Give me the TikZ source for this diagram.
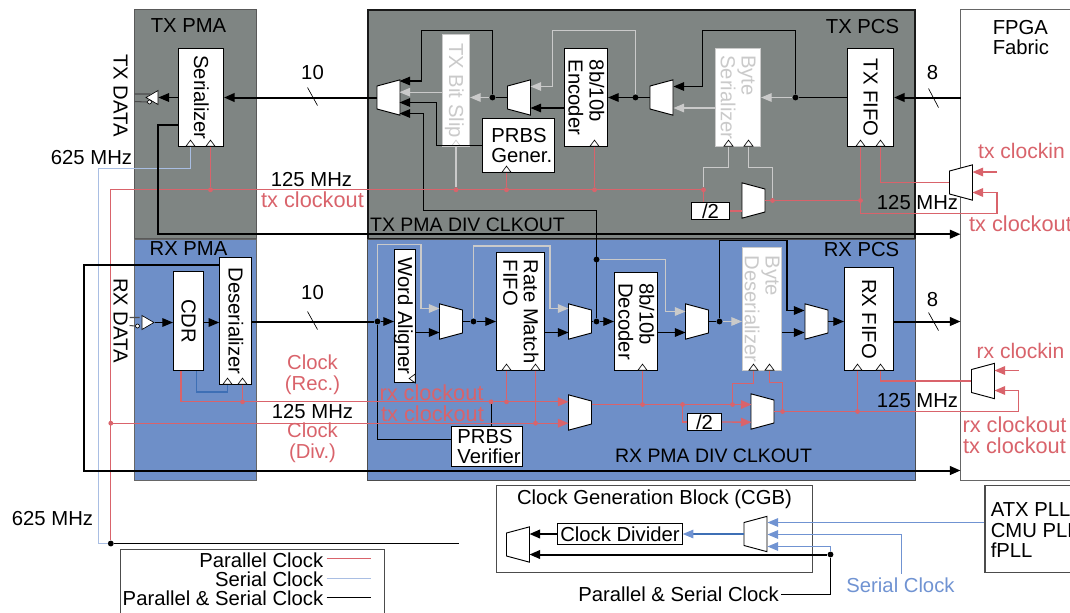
\documentclass[tikz,border=0pt]{standalone}
\usepackage{fontspec}
\setmainfont{Liberation Sans}
\usetikzlibrary{arrows.meta,shapes.geometric,positioning}
\definecolor{txgray}{HTML}{7F8583}
\definecolor{rxblue}{HTML}{6E8FC8}
\definecolor{wred}{HTML}{D9636B}
\definecolor{wgray}{HTML}{CACACA}
\definecolor{sblue}{HTML}{A9BEE3}
\definecolor{cblue}{HTML}{7093D2}
\definecolor{dblue}{HTML}{3E6FB5}
\newcommand{\vtext}[1]{\hspace*{-2pt}\makebox[0pt]{\rotatebox{-90}{\begin{tabular}{@{}l@{}}#1\end{tabular}}}\hspace*{2pt}}

\begin{document}
\begin{tikzpicture}[
  x=0.75pt, y=-0.75pt,
  every node/.style = {font=\fontsize{15.2}{15.4}\selectfont},
  region/.style = {draw=#1, line width=1pt},
  block/.style 2 args = {
    rectangle,
    draw,
    fill=white,
    inner sep=0pt,
    line width=.8pt,
    minimum width=#1*0.75pt,
    minimum height=#2*0.75pt,
    align=left
  },
  ghost/.style 2 args = {block={#1}{#2}, draw=wgray, text=wgray},
  mux/.style = {
    trapezium,
    draw,
    fill=white,
    line width=.7pt,
    inner sep=1pt,
    trapezium angle=75,
    shape border rotate=#1,
    minimum width=34*0.75pt,
    minimum height=23*0.75pt
  },
  clk/.style = {
    isosceles triangle,
    isosceles triangle stretches,
    isosceles triangle apex angle=90,
    shape border rotate=#1,
    draw,
    fill=white,
    line width=.5pt,
    inner sep=0pt,
    minimum width=9*0.75pt,
    minimum height=6*0.75pt
  },
  buf/.style = {
    isosceles triangle,
    isosceles triangle stretches,
    shape border rotate=#1,
    draw,
    fill=white,
    line width=.5pt,
    inner sep=0pt,
    minimum width=14*0.75pt,
    minimum height=12*0.75pt
  },
  bubble/.style = {circle, draw, fill=white, inner sep=0pt, minimum size=3pt, line width=.5pt},
  dot/.style = {circle, fill=#1, inner sep=0pt, minimum size=4.4pt},
  rdot/.style = {circle, fill=wred, inner sep=0pt, minimum size=3.6pt},
  tip/.style = {-{Triangle[length=8pt,width=6.5pt]}},
  wire/.style = {line width=.8pt, black},
  bus/.style = {line width=1.5pt, black},
  arr/.style = {wire, tip},
  busarr/.style = {bus, tip},
  gwire/.style = {line width=.8pt, wgray},
  garr/.style = {gwire, tip},
  rwire/.style = {line width=1pt, wred},
  rarr/.style = {rwire, tip},
  bwire/.style = {line width=1pt, sblue},
  barr/.style = {line width=.8pt, cblue, tip},
  slash/.style = {line width=.5pt, black},
  lbl/.style = {inner sep=0pt},
  rlbl/.style = {inner sep=0pt, text=wred},
  clocklbl/.style = {rlbl, font=\fontsize{16.3}{16.5}\selectfont},
  divlbl/.style = {lbl, font=\fontsize{14.6}{15}\selectfont},
  ]
  \path[use as bounding box, clip] (0,0) rectangle (1070,612);
  \begin{scope}[shift={(.5,.5)}]

  % regions
  \draw[region=black!65, fill=txgray] (134,9) rectangle (256,238);
  \draw[region=black!90, fill=txgray, line width=1.5pt] (367,9) rectangle (914,238);
  \draw[region=black!60, fill=rxblue] (134,239) rectangle (256,480);
  \draw[region=black!70, fill=rxblue] (367,239) rectangle (915,480);
  \draw[region=black!60, fill=white] (960,9) rectangle (1080,480);
  \draw[region=black!70] (496,485) rectangle (812,572);
  \draw[region=black!70] (120,549) rectangle (384,625);
  \node[block={95}{87}, draw=black!70] (pll) at (1032,528.5) {};

  % TX blocks
  \node[block={45}{98}] (serial) at (200.5,97) {\vtext{Serializer}};
  \node[ghost={27}{112}] (bitslip) at (455.5,90) {\vtext{TX Bit Slip}};
  \node[block={43}{98}] (encoder) at (585.5,97) {\vtext{8b/10b\\Encoder}};
  \node[block={72}{53.5}] (prbsgen) at (518,145.2) {\hspace{5pt}PRBS\\\hspace{5pt}Gener.};
  \node[ghost={45}{98}] (byteser) at (737.5,97) {\vtext{Byte\\Serializer}};
  \node[block={46}{98}] (txfifo) at (870,97) {\vtext{TX FIFO}};
  \node[block={38}{17.5}] (txdiv) at (710,210.5) {/2};
  \node[mux=90] (txm1) at (388,97) {};
  \node[mux=90] (txm2) at (518.5,97) {};
  \node[mux=90] (txm3) at (661,97) {};
  \node[mux=270] (txm4) at (753,200) {};
  \node[mux=90] (txm5) at (960.5,182) {};
  \node[buf=180] (txbuf) at (153.5,97) {};
  \node[bubble] (txbub) at (149,101.5) {};

  % RX blocks
  \node[block={31.5}{127}] (deser) at (235,320.5) {\vtext{Deserializer}};
  \node[block={30}{99}] (cdr) at (188,320.5) {\vtext{CDR}};
  \node[block={21}{133}] (aligner) at (404.5,315.5) {\vtext{Word Aligner}};
  \node[block={48}{118}] (ratefifo) at (520,311) {\vtext{Rate Match\\FIFO}};
  \node[block={43}{98}] (decoder) at (635.5,321) {\vtext{8b/10b\\Decoder}};
  \node[ghost={39}{123}] (bytedes) at (761.5,308.5) {\vtext{Byte\\Deserializer}};
  \node[block={49}{103}] (rxfifo) at (868.5,318.5) {\vtext{RX FIFO}};
  \node[block={71}{40}] (prbsver) at (486.5,446) {\hspace{3pt}PRBS\\\hspace{3pt}Verifier};
  \node[block={34}{17}] (rxdiv) at (704,421.5) {/2};
  \node[mux=270] (rxm1) at (450.5,321) {};
  \node[mux=270] (rxm2) at (579.5,321) {};
  \node[mux=270] (rxm3) at (696.5,321) {};
  \node[mux=270] (rxm4) at (816,321) {};
  \node[mux=270] (rxm5) at (579.5,412) {};
  \node[mux=270] (rxm6) at (762,411) {};
  \node[mux=90] (rxm7) at (982.5,380.5) {};
  \node[buf=0] (rxbuf) at (145.5,322) {};
  \node[bubble] (rxbub) at (137,325.5) {};

  % CGB blocks
  \node[block={124.5}{21}] (divider) at (619.5,533.5) {Clock Divider};
  \node[mux=90] (cgbm1) at (517.5,544) {};
  \node[mux=90] (cgbm2) at (755,533.5) {};

  % clock marks
  \node[clk=90, anchor=lower side] (ckser1) at (190,146) {};
  \node[clk=90, anchor=lower side] (ckser2) at (210,146) {};
  \node[clk=90, anchor=lower side, draw=wgray] (ckslip) at (455.5,146) {};
  \node[clk=90, anchor=lower side] (ckprbs) at (506,172) {};
  \node[clk=90, anchor=lower side] (ckenc) at (594,146) {};
  \node[clk=90, anchor=lower side] (ckbyte1) at (728,146) {};
  \node[clk=90, anchor=lower side] (ckbyte2) at (748,146) {};
  \node[clk=90, anchor=lower side] (cktx1) at (860,146) {};
  \node[clk=90, anchor=lower side] (cktx2) at (880,146) {};
  \node[clk=90, anchor=lower side] (ckdes1) at (227,384) {};
  \node[clk=90, anchor=lower side] (ckdes2) at (242,384) {};
  \node[clk=180, anchor=lower side] (ckword) at (415,378) {};
  \node[clk=90, anchor=lower side] (ckrate1) at (506,370) {};
  \node[clk=90, anchor=lower side] (ckrate2) at (535,370) {};
  \node[clk=90, anchor=lower side] (ckdec) at (642,370) {};
  \node[clk=90, anchor=lower side] (ckbd1) at (753,370) {};
  \node[clk=90, anchor=lower side] (ckbd2) at (769,370) {};
  \node[clk=90, anchor=lower side] (ckrx1) at (857,370) {};
  \node[clk=90, anchor=lower side] (ckrx2) at (880,370) {};

  % junctions
  \node[dot=black] (txj1) at (492,97) {};
  \node[dot=black] (txj2) at (635,97) {};
  \node[dot=black] (txj3) at (795,97) {};
  \node[dot=black] (rxj1) at (377,321) {};
  \node[dot=black] (rxj2) at (473,321) {};
  \node[dot=black] (rxj3) at (596,321) {};
  \node[dot=black] (rxj4) at (596,259) {};
  \node[dot=black] (rxj5) at (719,321) {};
  \node[dot=black] (cgbj) at (830,554) {};
  \node[dot=black] (legj) at (110.3,543) {};
  \node[rdot] (rt1) at (210,189.3) {};
  \node[rdot] (rt2) at (455.5,189.3) {};
  \node[rdot] (rt3) at (506,189.3) {};
  \node[rdot] (rt4) at (594,189.3) {};
  \node[rdot] (rt5) at (703,189.3) {};
  \node[rdot] (rt6) at (772,200) {};
  \node[rdot] (rt7) at (860,200) {};
  \node[rdot] (rr1) at (242,401.3) {};
  \node[rdot] (rr2) at (490.7,401.3) {};
  \node[rdot] (rr3) at (506,401.3) {};
  \node[rdot] (rr4) at (535,422.7) {};
  \node[rdot] (rr5) at (110.3,422.7) {};
  \node[rdot] (rr6) at (642,404) {};
  \node[rdot] (rr7) at (682,404) {};
  \node[rdot] (rr8) at (732,404) {};
  \node[rdot] (rr9) at (782,411) {};
  \node[rdot] (rr10) at (857,411) {};

  % mux inputs
  \coordinate (txa1) at (399,80.5);
  \coordinate (txa2) at (399,91.7);
  \coordinate (txa3) at (399,102);
  \coordinate (txa4) at (399,113);
  \coordinate (txb1) at (530,86);
  \coordinate (txb2) at (530,107.5);
  \coordinate (txc1) at (673,86);
  \coordinate (txc2) at (673,107.5);
  \coordinate (txd1) at (972,171.5);
  \coordinate (txd2) at (972,192);
  \coordinate (rxa1) at (439,308);
  \coordinate (rxa2) at (439,332);
  \coordinate (rxb1) at (568,308);
  \coordinate (rxb2) at (568,332);
  \coordinate (rxc1) at (685,311);
  \coordinate (rxc2) at (685,332);
  \coordinate (rxd1) at (804,310);
  \coordinate (rxd2) at (804,332);
  \coordinate (rxe1) at (568,401.3);
  \coordinate (rxe2) at (568,422.7);
  \coordinate (rxf1) at (751,404);
  \coordinate (rxf2) at (751,421.7);
  \coordinate (rxg1) at (994,370);
  \coordinate (rxg2) at (994,390);
  \coordinate (cga1) at (529,533.5);
  \coordinate (cga2) at (529,554);
  \coordinate (cgb1) at (767,522);
  \coordinate (cgb2) at (767,534);
  \coordinate (cgb3) at (767,546);

  % TX data path
  \draw[line width=.8pt, black!70] (134,93.5) -- (150,93.5) (134,101) -- (txbub.west);
  \draw[arr] (serial.west |- txbuf) -- (txbuf.lower side);
  \draw[busarr] (txm1.west) -- (serial.east |- txm1.west);
  \draw[arr] (txj1) |- (421,30) |- (txa1);
  \draw[garr] (bitslip.west |- txa2) -- (txa2);
  \draw[arr] (prbsgen.west) -| (436,102) -- (txa3);
  \draw[arr] (rxj3) -- (596,210) -| (423,113) -- (txa4);
  \draw[wire] (txm2.west) -- (txj1);
  \draw[garr] (txj1) -- (bitslip.east |- txj1);
  \draw[gwire, tip] (txj2) |- (551.6,30) |- (txb1);
  \draw[arr] (txb2 -| encoder.west) -- (txb2);
  \draw[arr] (txm3.west) -- (encoder.east |- txm3.west);
  \draw[arr] (txj3) |- (702,30) |- (txc1);
  \draw[garr] (txc2 -| byteser.west) -- (txc2);
  \draw[wire] (txfifo.west) -- (txj3);
  \draw[garr] (txj3) -- (byteser.east |- txj3);
  \draw[busarr] (960,97) -- (txfifo.east);

  % RX data path
  \draw[line width=.8pt, black!70] (129,317) -- (139,317) (129,325) -- (rxbub.west);
  \draw[arr] (rxbuf.apex) -- (cdr.west |- rxbuf.apex);
  \draw[arr] (cdr.east |- rxbuf.apex) -- (deser.west |- rxbuf.apex);
  \draw[bus] (deser.east |- rxj1) -- (rxj1);
  \draw[arr] (rxj1) -- (aligner.west |- rxj1);
  \draw[garr] (rxj1) |- (420.5,244) |- (rxa1);
  \draw[arr] (rxa2 -| aligner.east) -- (rxa2);
  \draw[wire] (rxj1) |- (prbsver.west |- 0,438.7);
  \draw[wire] (prbsver.north -| rr2) -- (rr2);
  \draw[wire] (rxm1.east) -- (rxj2);
  \draw[arr] (rxj2) -- (ratefifo.west |- rxj2);
  \draw[garr] (rxj2) |- (549.5,245.5) |- (rxb1);
  \draw[arr] (rxb2 -| ratefifo.east) -- (rxb2);
  \draw[wire] (rxm2.east) -- (rxj3);
  \draw[arr] (rxj3) -- (decoder.west |- rxj3);
  \draw[garr] (rxj4) -| (665,311) -- (rxc1);
  \draw[arr] (rxc2 -| decoder.east) -- (rxc2);
  \draw[wire] (rxm3.east) -- (rxj5);
  \draw[garr] (rxj5) -- (bytedes.west |- rxj5);
  \draw[wire, tip] (rxj5) |- (786.5,240) |- (rxd1);
  \draw[arr] (rxd2 -| bytedes.east) -- (rxd2);
  \draw[arr] (rxm4.east) -- (rxfifo.west |- rxm4.east);
  \draw[busarr] (rxfifo.east |- rxm4.east) -- (960,321);

  % TX clocks
  \draw[rwire] (legj) -- (legj |- rt1) -- (rt5);
  \draw[rwire] (ckser2.lower side) -- (rt1);
  \draw[gwire] (ckslip.lower side) -- (rt2);
  \draw[rwire] (ckprbs.lower side) -- (rt3);
  \draw[rwire] (ckenc.lower side) -- (rt4);
  \draw[rwire] (rt5) -- (rt5 |- txdiv.north);
  \draw[gwire] (rt5) -- (703,167) -| (ckbyte1.lower side);
  \draw[rwire] (txdiv.east) -- (txm4.west |- txdiv.east);
  \draw[rwire] (txm4.east) -- (rt6) -- (rt7);
  \draw[gwire] (rt6) |- (748,167) -- (ckbyte2.lower side);
  \draw[rwire] (cktx1.lower side) -- (rt7);
  \draw[rarr] (rt7) |- (996.5,212.7) |- (txd2);
  \draw[rarr] (996.5,171.5) -- (txd1);
  \draw[rwire] (txm5.west) -| (cktx2.lower side);

  % RX clocks
  \draw[rwire] (cdr.south -| 180.5,0) |- (rr1);
  \draw[rarr] (rr1) -- (rr2) -- (rr3) -- (rxe1);
  \draw[rwire] (ckdes2.lower side) -- (rr1);
  \draw[rarr] (rr5) -- (rr4) -- (rxe2);
  \draw[rwire] (ckrate1.lower side) -- (rr3);
  \draw[rwire] (ckrate2.lower side) -- (rr4);
  \draw[rwire] (rxm5.east |- rr6) -- (rr6) -- (rr7) -- (rr8);
  \draw[rarr] (rr8) -- (rxf1);
  \draw[rwire] (ckdec.lower side) -- (rr6);
  \draw[rwire] (rr7) |- (rxdiv.west);
  \draw[rarr] (rxdiv.east) -- (rxf2);
  \draw[rwire] (rr8) |- (753,383) -- (ckbd1.lower side);
  \draw[rwire] (rxm6.east) -- (rr9) -- (rr10) -- (1018,411);
  \draw[rarr] (1018,411) |- (rxg2);
  \draw[rarr] (1018,370) -- (rxg1);
  \draw[rwire] (rr9) |- (769,382) -- (ckbd2.lower side);
  \draw[rwire] (ckrx1.lower side) -- (rr10);
  \draw[rwire] (rxm7.west) -| (ckrx2.lower side);

  % serial clocks
  \draw[bwire] (legj) -| (98,168) -| (ckser1.lower side);
  \draw[line width=.8pt, dblue] (cdr.south -| 196,0) |- (227,391.5) -- (ckdes1.lower side);
  \draw[barr] (pll.west |- cgb1) -- (cgb1);
  \draw[barr] (901,573) |- (cgb2);
  \draw[barr] (cgbj |- cgb3) -- (cgb3);
  \draw[line width=.8pt, cblue] (cgbj) -- (cgbj |- cgb3);
  \draw[line width=.8pt, dblue, -{Triangle[length=8pt,width=6.5pt,color=cblue]}] (cgbm2.west) -- (divider.east);

  % CGB and clock network
  \draw[busarr] (divider.west) -- (cga1);
  \draw[busarr] (cgbj) -- (cga2);
  \draw[wire, line width=1.1pt] (cgbj) |- (780,594);
  \draw[wire, line width=1.1pt] (legj) -- (458,543);
  \draw[bus] (deser.west |- 0,264) -- (83,264) |- (950,470);
  \draw[busarr] (83,470) -- (960,470);
  \draw[bus] (serial.west |- 0,124) -- (157,124) |- (950,233.7);
  \draw[busarr] (157,233.7) -- (960,233.7);

  % bus width marks
  \draw[slash] (307,87) -- (317,105);
  \draw[slash] (307,311) -- (317,329);
  \draw[slash] (928,88) -- (938,107);
  \draw[slash] (928,312) -- (938,330);

  % labels
  \node[lbl] (txpma) at (188,25) {TX PMA};
  \node[lbl] (rxpma) at (188,248) {RX PMA};
  \node[lbl] (txpcs) at (862,26) {TX PCS};
  \node[lbl] (rxpcs) at (861,249) {RX PCS};
  \node[lbl, align=left, anchor=north west] (fpga) at (992,19.5) {FPGA\\Fabric};
  \node[lbl, rotate=-90] (txdata) at (120,95) {TX DATA};
  \node[lbl, rotate=-90] (rxdata) at (120,320) {RX DATA};
  \node[lbl] (ser625) at (91,157) {625 MHz};
  \node[lbl] (cgb625) at (52,518) {625 MHz};
  \node[lbl] (txw10) at (312,72) {10};
  \node[lbl] (rxw10) at (312,292) {10};
  \node[lbl] (txw8) at (932,72) {8};
  \node[lbl] (rxw8) at (932,299) {8};
  \node[lbl] (tx125) at (311,179) {125 MHz};
  \node[clocklbl] (txout) at (312,199) {tx clockout};
  \node[rlbl, align=center] (recclk) at (312,374.5) {Clock\\(Rec.)};
  \node[lbl] (rx125) at (312,411) {125 MHz};
  \node[rlbl, align=center] (divclk) at (312,442.5) {Clock\\(Div.)};
  \node[clocklbl] (rxout1) at (431,392.5) {rx clockout};
  \node[clocklbl] (txout1) at (432,413) {tx clockout};
  \node[divlbl] (txdivl) at (467,224) {TX PMA DIV CLKOUT};
  \node[divlbl] (rxdivl) at (713,455) {RX PMA DIV CLKOUT};
  \node[rlbl, font=\fontsize{15.8}{16}\selectfont] (txin) at (1021,150) {tx clockin};
  \node[lbl] (fab125a) at (917,202) {125 MHz};
  \node[clocklbl] (txout2) at (1020,223) {tx clockout};
  \node[rlbl, font=\fontsize{15.8}{16}\selectfont] (rxin) at (1020,350) {rx clockin};
  \node[lbl] (fab125b) at (917,400) {125 MHz};
  \node[clocklbl] (rxout2) at (1014,424) {rx clockout};
  \node[clocklbl] (txout3) at (1014,445) {tx clockout};
  \node[lbl] (cgbtitle) at (654,499) {Clock Generation Block (CGB)};
  \node[lbl, align=left, anchor=north west] (plltext) at (990,502) {ATX PLL\\CMU PLL\\fPLL};
  \node[lbl, text=cblue] (serclk) at (900,585) {Serial Clock};
  \node[lbl] (pscclk) at (678,594) {Parallel \& Serial Clock};

  % legend
  \node[lbl, anchor=east] (legpar) at (323,559.5) {Parallel Clock};
  \node[lbl, anchor=east] (legser) at (323,578.5) {Serial Clock};
  \node[lbl, anchor=east] (legps) at (323,597.5) {Parallel \& Serial Clock};
  \coordinate (legparend) at (370,558);
  \coordinate (legserend) at (370,578);
  \coordinate (legpsend) at (370,597);
  \draw[rwire] (legparend -| 326,0) -- (legparend);
  \draw[bwire] (legserend -| 326,0) -- (legserend);
  \draw[wire] (legpsend -| 326,0) -- (legpsend);
  \end{scope}
\end{tikzpicture}
\end{document}
